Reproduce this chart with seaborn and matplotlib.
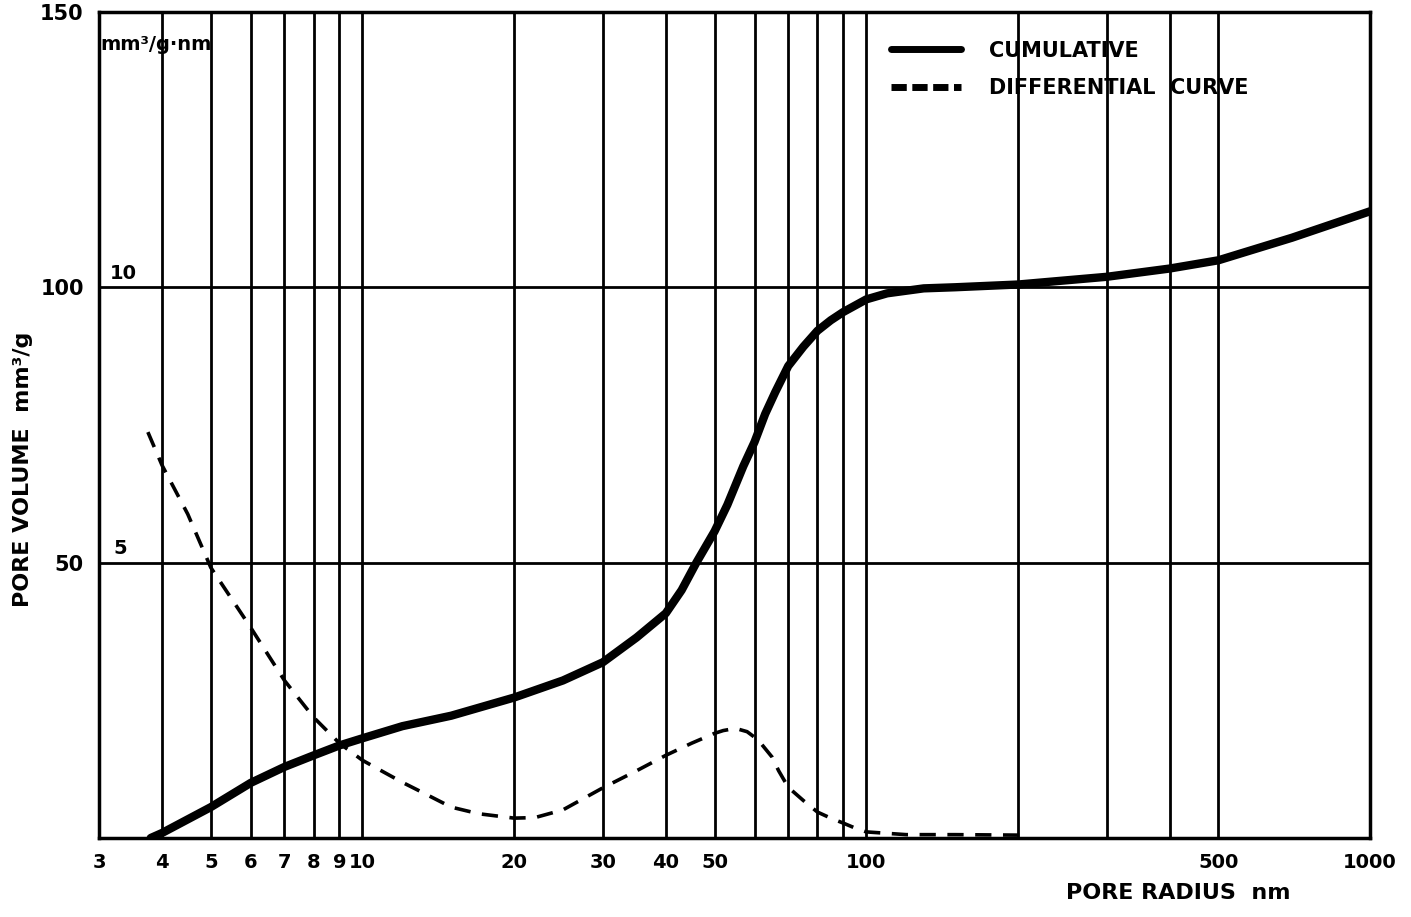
import numpy as np
import pandas as pd
import seaborn as sns
import matplotlib.pyplot as plt
from matplotlib.lines import Line2D

# pore radius (nm) and cumulative pore volume (mm3/g)
cum_radius = [3.8, 4, 5, 6, 7, 8, 9, 10, 12, 15, 20, 25, 30, 35, 40, 43, 46, 50, 53, 57,
              60, 63, 66, 70, 75, 80, 85, 90, 100, 110, 130, 150, 200, 300, 400, 500,
              700, 1000]
cum_volume = [0.0, 0.9, 5.6, 10.0, 12.9, 15.0, 16.8, 18.1, 20.3, 22.2, 25.5, 28.6, 31.9,
              36.4, 40.8, 45.0, 50.0, 55.7, 60.5, 67.5, 71.9, 77.0, 81.0, 85.7, 89.2, 92.1,
              94.0, 95.5, 97.8, 98.9, 99.8, 100.0, 100.5, 101.9, 103.4, 104.9, 109.0, 113.8]

# differential curve (mm3/g-nm), right-hand scale: 10 <-> 100
diff_radius = [3.75, 4, 4.5, 5, 6, 7, 8, 9, 10, 11, 12, 13, 15, 17, 20, 22, 25, 30, 35,
               40, 45, 50, 52, 55, 58, 60, 62, 65, 67, 70, 75, 80, 85, 90, 95, 100, 120,
               150, 210]
diff_value = [7.37, 6.77, 5.88, 4.91, 3.82, 2.86, 2.19, 1.72, 1.41, 1.20, 1.01, 0.85, 0.56,
              0.44, 0.36, 0.37, 0.51, 0.91, 1.22, 1.50, 1.72, 1.90, 1.95, 1.99, 1.93, 1.83,
              1.70, 1.47, 1.22, 0.92, 0.68, 0.47, 0.36, 0.27, 0.18, 0.11, 0.06, 0.06, 0.05]
DIFF_SCALE = 10

grid_x = [4, 5, 6, 7, 8, 9, 10, 20, 30, 40, 50, 60, 70, 80, 90, 100, 200, 300, 400, 500, 1000]
labelled_x = [3, 4, 5, 6, 7, 8, 9, 10, 20, 30, 40, 50, 100, 500, 1000]
y_ticks = [50, 100, 150]

sns.set_style("white")
plt.rcParams['font.family'] = ['DejaVu Sans']
plt.rcParams['font.weight'] = 'bold'
for key in ['text.color', 'axes.labelcolor', 'xtick.color', 'ytick.color']:
    plt.rcParams[key] = 'black'

fig = plt.figure(figsize=(14.11, 9.17), dpi=100)
ax = fig.add_axes([0.0702, 0.0862, 0.9008, 0.9008])

df_cum = pd.DataFrame({'r': cum_radius, 'v': cum_volume})
df_diff = pd.DataFrame({'r': diff_radius, 'v': np.array(diff_value) * DIFF_SCALE})

sns.lineplot(data=df_cum, x='r', y='v', ax=ax, color='black', lw=6, sort=False,
             solid_capstyle='round', solid_joinstyle='round', zorder=3)
sns.lineplot(data=df_diff, x='r', y='v', ax=ax, color='black', lw=2.6, sort=False,
             zorder=3)
ax.lines[-1].set_dashes((4.5, 3.2))

ax.set_xscale('log')
ax.set_xlim(3, 1000)
ax.set_ylim(0, 150)

# grid
for gx in grid_x:
    ax.axvline(gx, color='black', lw=2, zorder=1)
for gy in [50, 100]:
    ax.axhline(gy, color='black', lw=2, zorder=1)

ax.xaxis.set_minor_locator(plt.NullLocator())
ax.set_xticks([3] + grid_x)
ax.set_xticklabels([str(t) if t in labelled_x else '' for t in [3] + grid_x],
                   fontsize=14, fontweight='bold')
ax.set_yticks(y_ticks)
ax.set_yticklabels([str(t) for t in y_ticks], fontsize=15, fontweight='bold')
ax.tick_params(axis='both', direction='out', length=7, width=2, color='black', pad=4)

for s in ax.spines.values():
    s.set_color('black')
    s.set_linewidth(2.5)

# secondary scale labels for the differential curve
ax.text(3.2, 50.8, '5', fontsize=14, fontweight='bold', ha='left', va='bottom')
ax.text(3.15, 100.8, '10', fontsize=14, fontweight='bold', ha='left', va='bottom')
ax.text(3.02, 144, 'mm³/g·nm', fontsize=14, fontweight='bold', ha='left', va='center')

ax.set_xlabel('PORE RADIUS  nm', fontsize=16, fontweight='bold')
ax.xaxis.set_label_coords(0.849, -0.054)
ax.set_ylabel('PORE VOLUME  mm³/g', fontsize=16, fontweight='bold')
ax.yaxis.set_label_coords(-0.052, 0.446)

handles = [Line2D([], [], color='black', lw=5),
           Line2D([], [], color='black', lw=5, dashes=(2.2, 0.8))]
ax.legend(handles, ['CUMULATIVE', 'DIFFERENTIAL  CURVE'], loc='upper left',
          bbox_to_anchor=(0.608, 0.988), frameon=False,
          handlelength=3.4, handletextpad=1.3, labelspacing=0.85,
          prop={'weight': 'bold', 'size': 15})

fig.savefig('out.png', dpi=100, facecolor='white')
